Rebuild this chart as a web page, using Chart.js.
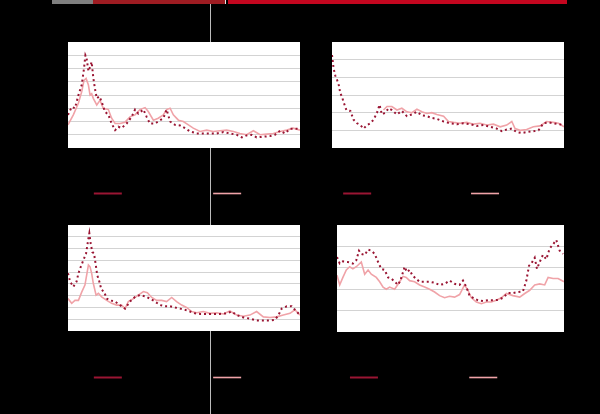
<!DOCTYPE html>
<html>
<head>
<meta charset="utf-8">
<script src="https://cdn.jsdelivr.net/npm/chart.js@4.4.1/dist/chart.umd.min.js"></script>
<style>
  html, body { margin: 0; padding: 0; background: #000; }
  #stage { position: relative; width: 600px; height: 414px; overflow: hidden; background: #000; }
  .deco { position: absolute; }
  canvas.panel { position: absolute; left: 0; top: 0; }
</style>
</head>
<body>
<div id="stage">
  <div class="deco" style="left:52px;top:0;width:41px;height:4px;background:#7f7f7f"></div>
  <div class="deco" style="left:93px;top:0;width:132px;height:4px;background:#9e1c22"></div>
  <div class="deco" style="left:225px;top:0;width:1px;height:4px;background:#e8e8e8"></div>
  <div class="deco" style="left:228px;top:0;width:339px;height:4px;background:#c4061f"></div>
  <div class="deco" style="left:210px;top:4px;width:1px;height:410px;background:#bcbcbc"></div>
  <canvas class="panel" id="c1" width="600" height="414"></canvas>
  <canvas class="panel" id="c2" width="600" height="414"></canvas>
  <canvas class="panel" id="c3" width="600" height="414"></canvas>
  <canvas class="panel" id="c4" width="600" height="414"></canvas>
</div>
<script>
// ---- Panel 1 (top left) ----
const p1DarkT = [0,1.6,3.0,4.5,5.9,6.9,7.5,8.0,8.8,9.5,10.2,10.9,11.6,12.4,13.5,14.5,15.9,17.4,18.8,20.3,21.7,23.1,25.3,27.4,28.9,30.3,32.5,33.9,35.3,37.5,39.7,41.1,42.5,44.0,46.1,48.3,50.4,52.6,55.5,58.3,61.2,64.1,67.0,69.8,72.7,74.9,77.0,79.2,81.3,84.2,87.1,89.2,91.4,93.5,95.7,97.8,100];
const p1DarkV = [2.5,3.1,3.0,4.0,4.75,6.0,7.0,6.8,5.8,6.1,6.5,5.3,4.5,3.75,3.9,3.5,2.75,2.5,1.85,1.35,1.6,1.5,1.85,2.35,2.9,2.6,2.9,2.35,1.85,1.85,2.1,2.25,2.9,2.0,1.75,1.7,1.5,1.25,1.1,1.1,1.1,1.1,1.2,1.1,1.0,0.8,0.95,1.0,0.8,0.85,0.9,1.0,1.3,1.1,1.45,1.45,1.45];
const p1PinkT = [0,2.3,4.5,5.9,6.9,7.8,8.8,9.5,10.2,10.9,12.4,13.8,15.2,17.4,18.8,20.3,22.4,24.6,26.7,28.9,31.0,33.2,34.6,36.8,38.9,41.1,42.5,44.0,45.4,47.6,49.7,51.9,54.0,56.9,59.8,62.6,65.5,68.4,71.3,74.1,77.0,79.9,82.8,85.6,88.5,91.4,94.3,97.1,100];
const p1PinkV = [1.75,2.5,3.4,4.25,5.1,5.25,4.75,4.0,4.1,3.75,3.25,3.6,3.0,2.9,2.25,1.85,1.85,1.95,2.35,2.5,2.9,3.05,2.75,2.1,2.25,2.5,2.9,3.0,2.5,2.1,2.0,1.75,1.5,1.25,1.35,1.25,1.3,1.35,1.25,1.1,1.0,1.3,1.0,1.05,1.1,1.25,1.35,1.5,1.35];

// ---- Panel 2 (top right) ----
const p2DarkT = [0,0.7,1.4,2.2,2.9,3.6,4.3,5.0,6.2,7.9,9.3,10.8,12.2,13.6,15.1,16.5,17.9,19.4,20.5,21.5,23.0,24.4,25.8,28.0,30.1,32.3,34.4,36.6,38.7,40.9,43.0,45.2,48.1,50.9,53.8,56.7,59.5,62.4,65.3,68.1,71.0,73.2,75.3,77.5,79.6,81.8,83.9,86.8,89.0,91.1,93.3,95.4,97.6,100];
const p2DarkV = [5.26,4.5,4.1,3.85,3.57,3.1,2.9,2.6,2.15,2.1,1.6,1.4,1.3,1.1,1.3,1.4,1.6,2.0,2.45,1.9,2.0,2.25,2.15,1.9,2.1,1.8,1.9,2.05,1.85,1.8,1.7,1.65,1.5,1.4,1.35,1.4,1.35,1.25,1.3,1.2,1.1,0.95,1.05,1.1,0.9,0.85,0.9,0.95,1.0,1.4,1.45,1.4,1.35,1.3];
const p2PinkT = [22.2,23.7,25.8,28.0,30.1,32.3,34.4,36.6,38.7,40.9,43.0,45.2,48.1,50.2,52.4,55.2,58.1,61.0,63.8,66.7,69.6,72.5,75.3,77.5,78.9,81.1,83.9,86.8,89.7,92.5,95.4,97.6,100];
const p2PinkV = [2.15,2.35,2.35,2.15,2.25,2.05,2.0,2.2,2.05,1.95,2.0,1.9,1.8,1.5,1.45,1.4,1.45,1.35,1.4,1.3,1.35,1.2,1.3,1.5,1.1,1.0,1.05,1.2,1.25,1.5,1.45,1.4,1.2];

// ---- Panel 3 (bottom left) ----
const p3DarkT = [0,0.9,2.3,3.7,4.5,5.5,6.6,7.8,8.8,9.2,9.8,10.5,11.2,11.9,12.6,13.5,14.4,15.5,16.7,18.1,20.3,22.4,24.6,26.7,28.9,31.0,33.2,35.3,37.5,39.7,41.8,44.0,46.1,48.3,50.4,52.6,54.7,56.9,59.8,62.6,65.5,68.4,70.5,72.7,75.6,78.4,81.3,84.2,87.1,89.2,90.7,92.1,94.3,96.4,97.8,100];
const p3DarkV = [4.9,4.2,3.75,4.2,4.9,5.45,6.0,6.6,7.85,8.3,7.4,6.7,6.6,5.7,4.75,4.2,3.5,3.35,2.75,2.6,2.5,2.2,1.9,2.5,2.9,3.05,2.95,2.75,2.5,2.2,2.1,2.1,2.0,1.9,1.8,1.65,1.5,1.45,1.45,1.45,1.45,1.5,1.65,1.35,1.15,1.05,0.9,0.9,0.9,0.95,1.35,1.9,2.1,2.1,1.8,1.35];
const p3PinkT = [0,1.6,3.0,4.5,5.9,7.3,8.8,9.5,10.2,10.9,12.1,13.1,14.5,16.7,18.8,21.0,23.1,24.6,26.0,28.2,30.3,32.5,34.2,36.1,38.2,40.4,42.5,44.7,46.8,49.0,51.1,53.3,55.5,58.3,61.2,64.1,67.0,69.8,72.7,75.6,78.4,81.3,84.2,87.1,89.9,92.8,95.7,97.8,100];
const p3PinkV = [2.75,2.35,2.6,2.6,3.3,3.9,5.6,5.45,4.9,4.05,3.05,3.2,2.9,2.6,2.35,2.2,2.2,1.9,2.5,2.75,3.05,3.35,3.25,2.85,2.6,2.6,2.5,2.85,2.5,2.2,2.0,1.65,1.55,1.65,1.5,1.55,1.45,1.7,1.35,1.25,1.35,1.65,1.2,1.15,1.2,1.35,1.5,1.8,1.35];

// ---- Panel 4 (bottom right) ----
const p4DarkT = [0,1.2,2.6,4.8,7.0,8.5,9.7,10.7,12.2,13.7,15.1,16.6,18.1,19.5,21.0,22.5,23.9,25.4,26.9,27.9,28.8,29.8,30.8,32.0,33.2,34.7,36.4,38.6,40.8,43.0,45.2,47.4,49.6,51.8,54.0,55.5,57.0,58.4,59.9,62.1,64.3,66.5,68.7,70.9,73.1,75.3,77.5,79.7,81.9,83.4,84.6,85.6,87.1,88.1,89.3,90.7,92.2,93.7,95.2,96.6,98.1,99.6];
const p4DarkV = [3.5,3.2,3.3,3.27,3.2,3.35,3.8,3.65,3.6,3.85,3.8,3.65,3.27,2.95,2.9,2.55,2.5,2.35,2.2,2.4,2.7,3.05,2.8,2.9,2.65,2.5,2.35,2.35,2.35,2.3,2.2,2.25,2.4,2.25,2.2,2.4,2.1,1.7,1.6,1.48,1.45,1.48,1.48,1.5,1.6,1.82,1.82,1.87,1.9,2.4,3.1,3.2,3.47,2.95,3.27,3.6,3.4,3.9,4.1,4.3,3.8,3.65];
const p4PinkT = [0,1.2,2.6,4.1,5.6,7.0,8.5,10.7,12.2,13.7,15.1,17.3,18.8,20.3,21.7,23.2,25.4,27.6,29.1,30.5,32.0,34.2,36.4,38.6,40.8,43.0,45.2,47.4,49.6,51.8,54.0,56.2,57.7,59.2,61.4,63.6,65.8,68.0,70.2,72.4,74.6,77.5,80.5,82.7,84.9,87.1,89.3,91.5,93.0,95.2,97.4,100];
const p4PinkV = [2.65,2.2,2.55,2.9,3.05,2.95,3.05,3.27,2.7,2.9,2.7,2.55,2.35,2.1,2.0,2.1,2.0,2.35,2.6,2.55,2.4,2.35,2.2,2.1,2.0,1.87,1.7,1.6,1.67,1.63,1.75,2.2,1.95,1.6,1.4,1.32,1.4,1.4,1.48,1.6,1.8,1.7,1.63,1.8,1.95,2.2,2.25,2.2,2.55,2.5,2.5,2.35];

// Legend labels and y-axis maxima
const legendDark = ['Market spreads', 'Observed spread', 'Market spreads', 'Market spreads'];
const legendPink = ['Fitted', 'Fair value', 'Fitted', 'Fair value'];
const yMax = [8, 6, 9, 5];

function pts(ts, vs) { return ts.map((t, i) => ({ x: t, y: vs[i] })); }

const whiteArea = {
  id: 'whiteArea',
  beforeDraw(chart) {
    const a = chart.chartArea, c = chart.ctx;
    c.save(); c.fillStyle = '#ffffff';
    c.fillRect(a.left, a.top, a.right - a.left, a.bottom - a.top);
    c.restore();
  }
};

function makePanel(id, idx, darkT, darkV, pinkT, pinkV, layout) {
  const max = yMax[idx];
  return new Chart(document.getElementById(id), {
    type: 'line',
    data: {
      datasets: [
        { label: legendDark[idx], data: pts(darkT, darkV), borderColor: '#9a1533', borderWidth: 2,
          borderDash: [2, 3], pointRadius: 0, tension: 0, pointStyle: 'line' },
        { label: legendPink[idx], data: pts(pinkT, pinkV), borderColor: '#f0a3a8', borderWidth: 1.6,
          pointRadius: 0, tension: 0, pointStyle: 'line' }
      ]
    },
    options: {
      responsive: false, animation: false,
      layout: { padding: layout.pad },
      plugins: {
        tooltip: { enabled: false },
        legend: {
          position: 'bottom', align: 'center', fullSize: false,
          labels: { usePointStyle: true, pointStyleWidth: 28, padding: 10, color: '#000000',
                    font: { family: 'Liberation Sans', size: 11 } }
        }
      },
      scales: {
        x: { type: 'linear', min: 0, max: 100, grid: { display: false }, border: { display: false },
             ticks: { display: false }, afterFit: s => { s.height = layout.xh; } },
        y: { min: 0, max: max, border: { display: false },
             ticks: { display: false, stepSize: 1 },
             grid: { drawTicks: false, lineWidth: 1,
                     color: c => (c.tick && (c.tick.value === 0 || c.tick.value === max)) ? 'rgba(0,0,0,0)' : '#d3d3d3' },
             afterFit: s => { s.width = 0; } }
      }
    },
    plugins: [whiteArea]
  });
}

makePanel('c1', 0, p1DarkT, p1DarkV, p1PinkT, p1PinkV, { pad: { left: 68, right: 300, top: 42, bottom: 205 }, xh: 30 });
makePanel('c2', 1, p2DarkT, p2DarkV, p2PinkT, p2PinkV, { pad: { left: 332, right: 36, top: 42, bottom: 205 }, xh: 30 });
makePanel('c3', 2, p3DarkT, p3DarkV, p3PinkT, p3PinkV, { pad: { left: 68, right: 300, top: 225, bottom: 21 }, xh: 31 });
makePanel('c4', 3, p4DarkT, p4DarkV, p4PinkT, p4PinkV, { pad: { left: 337, right: 36, top: 225, bottom: 21 }, xh: 30 });
</script>
</body>
</html>
